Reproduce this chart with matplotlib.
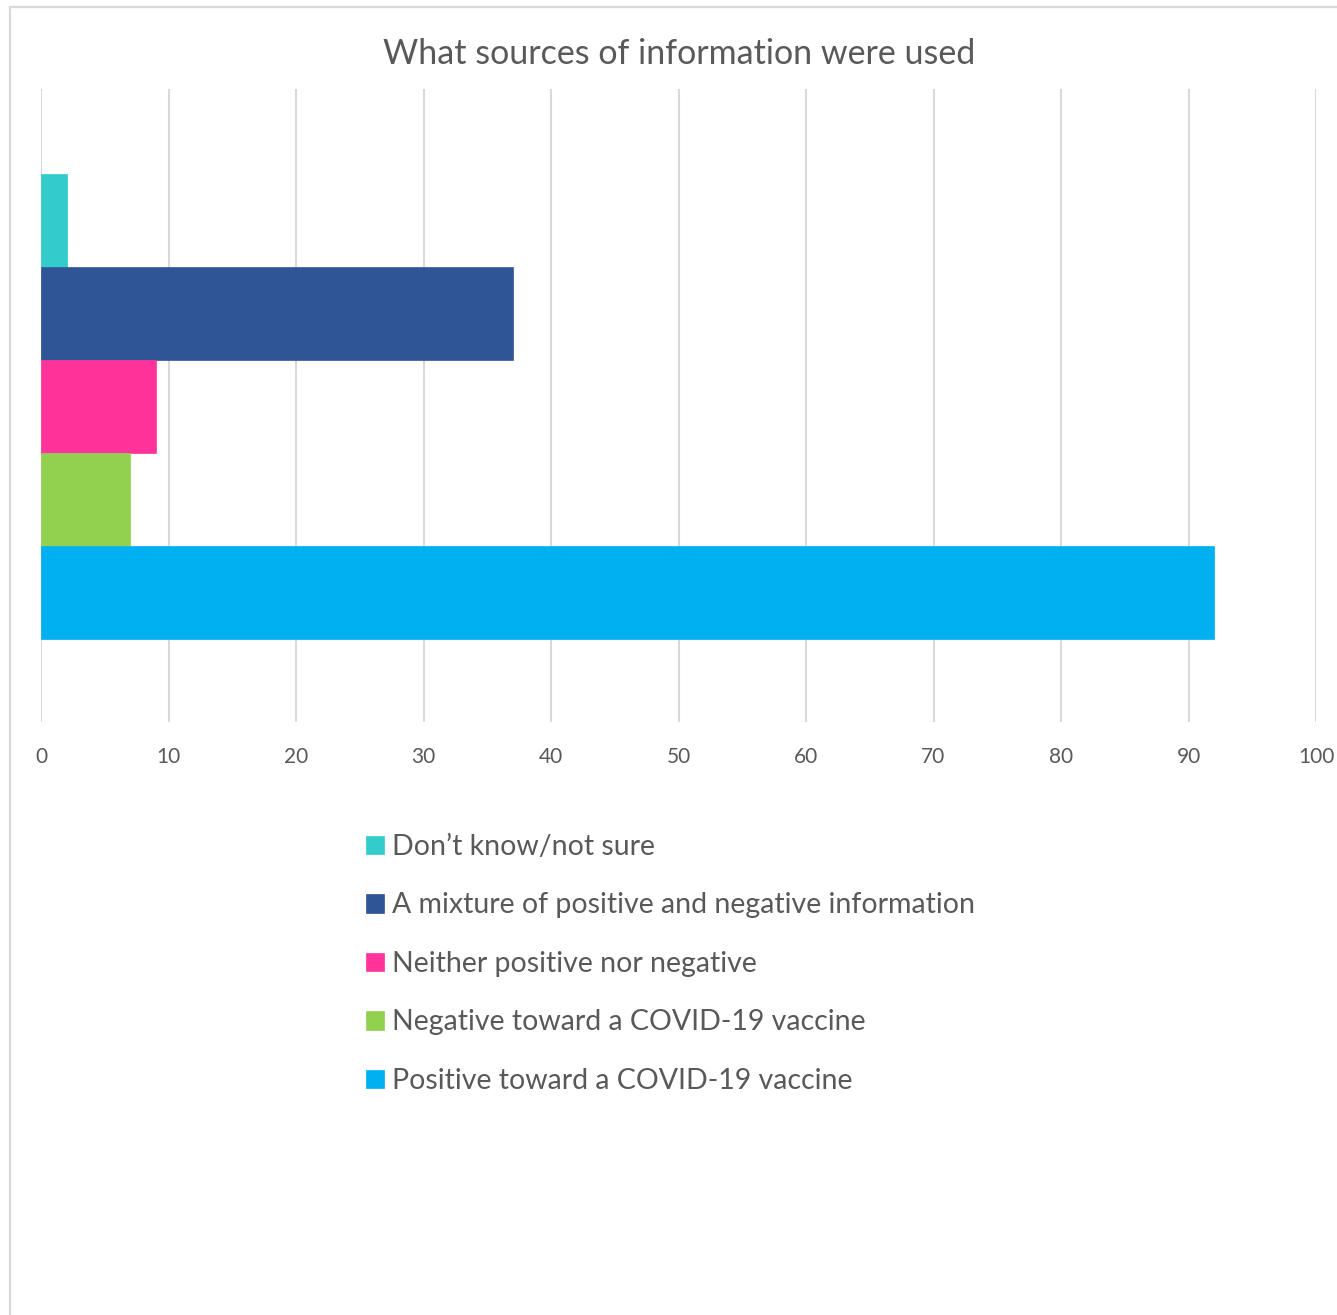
import matplotlib.pyplot as plt
from matplotlib.patches import Rectangle

# series, top to bottom as they appear in the legend
labels = ["Don\u2019t know/not sure",
          "A mixture of positive and negative information",
          "Neither positive nor negative",
          "Negative toward a COVID-19 vaccine",
          "Positive toward a COVID-19 vaccine"]
values = [2, 37, 9, 7, 92]
colors = ["#33CCCC", "#2F5597", "#FF3399", "#92D050", "#00B0F0"]
xticks = [0, 10, 20, 30, 40, 50, 60, 70, 80, 90, 100]

plt.rcParams['font.family'] = ['Lato', 'DejaVu Sans']

W, H = 1337, 1315
fig = plt.figure(figsize=(W / 100, H / 100), dpi=100)
ax = fig.add_axes([41 / W, 1 - 722 / H, (1316 - 41) / W, (722 - 89) / H])

# one group, each series stacked downward inside it
n = len(values)
handles = []
for i, (lab, val, col) in enumerate(zip(labels, values, colors)):
    b = ax.barh(n - 1 - i, val, height=1.0, color=col, edgecolor=col,
                linewidth=0.5, label=lab, zorder=3)
    handles.append(b)

ax.set_xlim(0, 100)
ax.set_ylim(-1.39, 5.41)
ax.set_xticks(xticks)
ax.set_xticklabels([str(t) for t in xticks], fontsize=15, color="#595959")
ax.set_yticks([])
ax.tick_params(axis='x', length=0, pad=18)
for s in ax.spines.values():
    s.set_visible(False)
ax.grid(axis='x', color="#D9D9D9", linewidth=1.5, zorder=0)
ax.set_axisbelow(True)

fig.text(679 / W, 1 - 54 / H, "What sources of information were used",
         ha='center', va='center', fontsize=24.5, color="#595959")

leg = fig.legend(handles=handles, loc='upper left',
                 bbox_to_anchor=(366 / W, 1 - 834 / H), frameon=False,
                 fontsize=20.5, handlelength=0.62, handleheight=0.62,
                 handletextpad=0.3, labelspacing=1.14, borderaxespad=0,
                 borderpad=0)
for t in leg.get_texts():
    t.set_color("#595959")

# outer chart border (only top and left are inside the canvas)
fig.patches.append(Rectangle((10 / W, -0.1), 1.2, 1 - 7 / H + 0.1,
                             transform=fig.transFigure, fill=False,
                             edgecolor="#D9D9D9", linewidth=1.6))

fig.savefig("out.png", dpi=100, facecolor="white")
